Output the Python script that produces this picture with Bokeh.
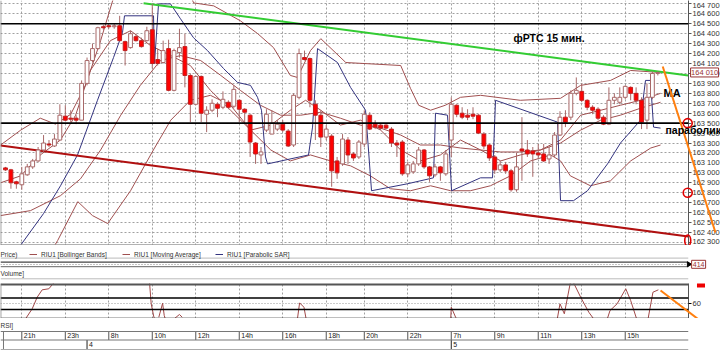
import math
from bokeh.plotting import figure
from bokeh.layouts import column
from bokeh.models import (Range1d, FixedTicker, Span, Label, Legend, LegendItem,
                          Arrow, NormalHead, ColumnDataSource)
from bokeh.embed import file_html
from bokeh.resources import INLINE
from bokeh.core.properties import value

FONT = "Liberation Sans"

# ---------------- data: 15-min candles RIU1 ----------------
opens = [163050,163030,162910,162880,162980,163060,163120,163230,163290,163270,
         163330,163570,163550,163550,163530,163900,164130,164250,164470,164480,
         164470,164480,164320,164260,164370,164330,164330,164440,164140,164110,
         164250,163830,164210,164270,163980,163690,163970,163590,163630,163690,
         163660,163710,163670,163730,163640,163580,163300,163180,163430,163390,
         163440,163490,163420,163280,163760,164160,164150,163690,163580,163360,
         163370,163120,163090,163330,163190,163160,163290,163580,163490,163480,
         163480,163440,163300,163310,162990,163010,163090,163230,163060,162980,
         163060,162990,163330,163680,163600,163580,163590,163580,163390,163280,
         163160,163030,163080,163020,162830,163240,163230,163220,163200,163190,
         163140,163180,163380,163560,163560,163800,163820,163730,163660,163640,
         163560,163490,163730,163710,163760,163860,163800,163730,163530,163760,
         164000]
highs = [163060,163040,162920,163060,163090,163140,163260,163380,163330,163390,
         163690,163680,163630,163580,163930,164160,164300,164470,164490,164490,
         164500,164580,164330,164430,164400,164360,164470,164700,164250,164330,
         164340,164250,164450,164400,164000,163980,163980,163670,163740,163710,
         163820,163730,163880,163740,163650,163590,163310,163260,163640,163630,
         163530,163530,163440,163800,164250,164230,164160,163730,163630,163480,
         163390,163160,163390,163360,163210,163330,163630,163610,163530,163490,
         163490,163460,163330,163330,163110,163120,163260,163240,163070,163090,
         163070,163230,163760,163690,163660,163640,163660,163590,163410,163290,
         163180,163120,163110,163040,163200,163560,163330,163260,163290,163290,
         163260,163410,163620,163630,163830,163960,163900,163740,163680,163660,
         163580,163860,163800,163860,163880,163870,163860,163760,163900,164020,
         164020]
lows = [163020,162840,162840,162830,162970,163040,163110,163210,163260,163260,
        163330,163520,163510,163490,163530,163880,164110,164240,164440,164450,
        164450,164320,164080,164250,164320,164260,164320,164050,164080,164100,
        163820,163820,164160,163860,163510,163680,163510,163410,163610,163560,
        163640,163640,163650,163510,163510,163160,163090,163090,163410,163390,
        163420,163410,163260,163260,163740,164130,163660,163330,163260,163330,
        162860,162940,163070,163090,163120,163140,163260,163430,163440,163430,
        163440,163260,163160,162970,162960,162990,163070,163040,162910,162960,
        162920,162970,163160,163560,163540,163530,163540,163390,163240,163120,
        162990,163010,162990,162810,162810,162920,163160,162960,163140,163110,
        163090,163160,163370,163460,163530,163780,163710,163630,163590,163530,
        163480,163480,163690,163690,163740,163730,163690,163440,163440,163740,
        163980]
closes = [163030,162900,162890,162990,163060,163120,163230,163300,163280,163340,
          163580,163530,163540,163530,163900,164130,164250,164460,164460,164470,
          164480,164330,164230,164400,164330,164270,164430,164100,164100,164230,
          163830,164230,164260,163980,163690,163970,163600,163630,163700,163650,
          163740,163660,163840,163640,163610,163310,163190,163210,163590,163500,
          163490,163430,163270,163780,164200,164140,163730,163580,163360,163440,
          163020,163000,163340,163180,163150,163310,163590,163440,163460,163450,
          163450,163300,163280,162990,163080,163090,163230,163060,162970,163060,
          163000,163190,163690,163590,163560,163560,163570,163400,163270,163150,
          163030,163080,163020,162830,163060,163220,163190,163190,163180,163120,
          163180,163380,163560,163510,163800,163830,163730,163660,163630,163550,
          163490,163730,163760,163760,163870,163800,163730,163510,163760,164000,
          164010]

# indicator lines (vertices: candle index, price)
bb_up_x = [-0.9,2.8,6.4,9.2,12.0,14.7,17.5,19.7,23.0,32.2,34.6,38.3,43.2,46.4,49.3,52.4,53.7,56.1,
           58.0,62.6,72.7,74.5,76.0,78.2,80.9,83.7,87.4,94.7,102.1,105.8,111.3,115.0,120.5]
bb_up_y = [163280,163430,163550,163490,163590,163880,164330,164730,165140,165040,164710,164680,
           164530,164400,164260,163980,163960,164230,164350,164110,164080,163850,163680,163630,
           163680,163760,163780,163730,163750,163880,163930,164030,164010]
bb_mid_x = [-0.9,4.6,10.1,13.8,17.5,21.2,24.8,28.5,32.2,35.9,39.6,43.2,46.9,50.6,54.3,58.0,61.6,
            65.3,69.0,72.7,76.3,80.0,83.7,87.4,91.1,94.7,98.4,102.1,105.8,109.5,113.1,116.8,120.5]
bb_mid_y = [162570,162620,162770,162940,163230,163580,163880,164130,164180,164130,163980,163830,
            163680,163580,163580,163610,163550,163480,163450,163380,163280,163280,163250,163230,
            163210,163210,163230,163300,163430,163530,163580,163650,163710]
bb_low_x = [5.0,9.6,13.3,16.0,18.8,23.0,27.2,30.4,34.0,37.7,41.4,45.1,48.8,52.4,56.1,59.8,63.5,
            67.1,70.8,74.5,78.2,81.9,85.5,89.2,92.9,96.6,100.3,102.1,103.9,107.6,111.3,115.0,118.7,120.5]
bb_low_y = [161900,162320,162710,162570,162490,162820,163230,163530,163730,163780,163680,163430,
            163230,163120,163180,163120,163070,162970,162840,162820,162870,162820,162820,162870,
            162970,163120,163180,163120,162970,162870,162920,163120,163250,163280]
ma_x = [-0.9,2.8,6.4,10.1,12.9,15.6,19.3,23.0,26.7,30.4,34.0,37.7,41.4,45.1,48.8,52.4,55.2,58.0,
        61.6,65.3,69.0,72.7,76.3,80.0,83.7,87.4,91.1,94.7,98.4,102.1,105.8,109.5,113.1,116.8,120.5]
ma_y = [162900,162970,163180,163330,163580,164030,164330,164430,164280,164180,164080,163830,163630,
        163430,163480,163630,163730,163630,163480,163530,163430,163230,163120,163180,163330,163230,
        163120,163180,163230,163330,163580,163630,163680,163730,163800]
sar_x = [2.76,6.99,10.12,13.25,16.92,19.87,21.52,21.89,27.23,27.41,28.15,30.35,32.19,34.58,37.16,
         40.10,42.68,45.07,46.36,47.09,47.46,47.83,48.20,55.74,56.48,57.40,61.07,63.47,66.23,67.33,
         73.95,78.73,79.10,81.31,82.05,87.38,89.59,90.14,101.55,102.10,104.49,107.06,110.74,113.13,
         116.81,117.73,118.65,119.21,120.50]
sar_y = [162270,162590,162870,163180,163730,164160,164410,164580,164580,164100,164700,164700,
         164550,164360,164230,164050,163910,163880,163760,163630,163400,163160,163090,163180,
         163460,164250,164110,163860,163630,162820,162890,162950,163600,163580,162820,162950,
         162950,163730,163510,162720,162720,162820,163090,163300,163530,163930,163930,163460,
         163450]

# hand-drawn annotations on the chart
levels = [164500, 163500]
green_x = [25.4, 125.6]
green_y = [164707, 163980]
red_x = [-0.92, 125.6]
red_y = [163275, 162360]
orange_x = [120.9, 130.6]
orange_y = [164070, 162400]
circle_x = [125.5, 125.5]
circle_y = [163500, 162800]
oval_x = [125.5]
oval_y = [162320]
last_price = 164010
volume_count = "414"

# RSI (visible pieces, NaN = off panel)
nan = float("nan")
rsi_x = [3.68,4.91,5.83,6.75,7.97,8.89, nan,
         26.5,26.8,27.3,27.6, nan, 28.2,28.9,29.2,29.4, nan, 31.0,32.0,32.5, nan,
         53.7,54.1,54.9,55.3, nan, 81.9,82.0,82.8,83.0, nan,
         101.5,102.0,102.8,103.9, nan, 104.5,105.8,107.3,108.2, nan,
         110.7,111.2,112.5,114.1,115.0,116.1, nan, 118.2,119.1,120.1]
rsi_y = [34,51.4,71.4,84.1,85.9,96.2, nan,
         96.2,60,36.9,34, nan, 36.9,61,39.8,34, nan, 34,41.6,36.9, nan,
         34,61.6,54.1,34, nan, 34,54.1,36.9,34, nan,
         34,60,42.8,96.2, nan, 96.2,71.4,45.5,34, nan,
         34,48.4,60,85.9,65.7,34, nan, 34,80,84.1]
rsi_levels = [70, 50]
orange2_x = [120.5, 128.4]
orange2_y = [82.9, 26.6]

# axis labels
price_ticks = list(range(162300, 164701, 100))
price_labels = ["%d %03d" % (p // 1000, p % 1000) for p in price_ticks]
tick_idx = [3, 11, 19, 27, 35, 43, 51, 59, 66, 74, 82, 90, 98, 106, 114]
tick_labels = ["21h", "23h", "8h", "10h", "12h", "14h", "16h", "18h",
               "20h", "22h", "7h", "9h", "11h", "13h", "15h"]
day_idx = [15, 82]
day_labels = ["4", "5"]

# ---------------- figures ----------------
FW = 688
BROWN = "#a05050"
NAVY = "#33337f"
xr = Range1d(-0.92, 125.64)
common = dict(frame_width=FW, x_range=xr, output_backend="svg", toolbar_location=None,
              min_border_left=0, min_border_top=0, min_border_bottom=0, outline_line_color=None)

pA = figure(frame_height=245, y_range=Range1d(162269, 164734), x_axis_location=None,
            y_axis_location="right", min_border_right=30, **common)
ya = pA.yaxis[0]
ya.ticker = FixedTicker(ticks=price_ticks)
ya.major_label_overrides = {p: s for p, s in zip(price_ticks, price_labels)}
ya.major_label_text_font_size = "7.5px"
ya.major_label_text_font = FONT
ya.major_label_text_color = "#333333"
ya.axis_line_color = "#555555"
ya.major_tick_line_color = "#555555"
ya.major_tick_in = 0
ya.major_tick_out = 3
ya.minor_tick_line_color = None
ya.major_label_standoff = 1

pA.xgrid.ticker = FixedTicker(ticks=tick_idx)
pA.ygrid.ticker = FixedTicker(ticks=price_ticks)
for g in (pA.xgrid[0], pA.ygrid[0]):
    g.grid_line_color = "#a0a0a0"
    g.grid_line_dash = "2 2"
    g.grid_line_width = 1

for lv in levels:
    pA.add_layout(Span(location=lv, dimension="width", line_color="black", line_width=1.6))
pA.add_layout(Span(location=162272, dimension="width", line_color="#999999", line_width=2))
pA.add_layout(Span(location=-0.86, dimension="height", line_color="#777777", line_width=1))

# indicators
pA.line(bb_up_x, bb_up_y, line_color=BROWN, line_width=1)
pA.line(bb_mid_x, bb_mid_y, line_color=BROWN, line_width=1)
pA.line(bb_low_x, bb_low_y, line_color=BROWN, line_width=1)
pA.line(ma_x, ma_y, line_color=BROWN, line_width=1)
pA.line(sar_x, sar_y, line_color=NAVY, line_width=1)

# trend lines
pA.line(green_x, green_y, line_color="#33cc33", line_width=2)
pA.line(red_x, red_y, line_color="#b01010", line_width=2)

# candles
idx = list(range(len(opens)))
up = [c >= o for o, c in zip(opens, closes)]
src_up = ColumnDataSource(dict(x=[i for i in idx if up[i]],
                               top=[closes[i] for i in idx if up[i]],
                               bot=[opens[i] for i in idx if up[i]]))
src_dn = ColumnDataSource(dict(x=[i for i in idx if not up[i]],
                               top=[opens[i] for i in idx if not up[i]],
                               bot=[closes[i] for i in idx if not up[i]]))
pA.segment(x0=idx, y0=lows, x1=idx, y1=highs, line_color="#a86868", line_width=1)
pA.vbar(x="x", width=0.7, top="top", bottom="bot", source=src_up,
        fill_color="white", line_color="#a86868", line_width=1)
pA.vbar(x="x", width=0.7, top="top", bottom="bot", source=src_dn,
        fill_color="#ff0000", line_color="#c02020", line_width=1)

# orange forecast line + circles + labels beyond the frame (overlay level: not clipped)
pA.line(orange_x, orange_y, line_color="#ff7f0e", line_width=2, level="overlay")
pA.scatter(circle_x, circle_y, marker="circle", size=9, line_color="#e00000",
           line_width=1.6, fill_color=None, level="overlay")
pA.ellipse(x=oval_x, y=oval_y, width=6, height=11, width_units="screen", height_units="screen",
           line_color="#e00000", line_width=1.6, fill_color=None, level="overlay")
pA.rect(x=[128.6], y=[last_price], width=28, height=9, width_units="screen", height_units="screen",
        fill_color="white", line_color="#993333", line_width=1, level="overlay")
pA.text(x=[128.6], y=[last_price], text=["%d %03d" % (last_price // 1000, last_price % 1000)],
        text_font=value(FONT), text_font_size="7.5px", text_align="center",
        text_baseline="middle", text_color="#993333", level="overlay")
pA.text(x=[121.4], y=[163436], text=["параболик"], text_font=value(FONT),
        text_font_style="bold", text_font_size="10.5px", text_baseline="middle",
        text_color="black", level="overlay")

pA.add_layout(Label(x=93.45, y=164357, text="фРТС  15 мин.", text_font=FONT,
                    text_font_style="bold", text_font_size="10.5px", text_baseline="middle",
                    text_color="black"))
pA.add_layout(Label(x=121.05, y=163808, text="MA", text_font=FONT, text_font_style="bold",
                    text_font_size="11px", text_baseline="middle", text_color="black"))

# ---- legend / strip / volume header ----
pB = figure(frame_height=38, y_range=Range1d(38, 0), x_axis_location=None, y_axis_location=None,
            min_border_right=32, **common)
pB.grid.visible = False
nan1 = [float("nan")]
lg_bb = pB.line(x=nan1, y=nan1, line_color=BROWN, line_width=1)
lg_ma = pB.line(x=nan1, y=nan1, line_color=BROWN, line_width=1)
lg_sar = pB.line(x=nan1, y=nan1, line_color=NAVY, line_width=1)
legend = Legend(items=[LegendItem(label="RIU1 [Bollinger Bands]", renderers=[lg_bb]),
                       LegendItem(label="RIU1 [Moving Average]", renderers=[lg_ma]),
                       LegendItem(label="RIU1 [Parabolic SAR]", renderers=[lg_sar])],
                orientation="horizontal", location=(29, 25), glyph_width=8, glyph_height=8,
                label_standoff=4, label_width=81, spacing=0, padding=0, margin=0,
                border_line_color=None, background_fill_alpha=0,
                label_text_font_size="6.5px", label_text_font=FONT, label_text_color="#333333",
                label_height=8)
pB.add_layout(legend)
pB.text(x=[-0.92], y=[9], text=["Price)"], text_font=value(FONT),
        text_font_size="6.5px", text_baseline="middle", text_color="#333333", level="overlay")
pB.add_layout(Span(location=12.6, dimension="width", line_color="#bbbbbb", line_width=1))
pB.add_layout(Span(location=16.6, dimension="width", line_color="#444444", line_width=1.2))
pB.add_layout(Span(location=19.0, dimension="width", line_color="#888888", line_width=1, line_dash="1 2"))
pB.add_layout(Span(location=21.2, dimension="width", line_color="#666666", line_width=1))
pB.add_layout(Span(location=33.3, dimension="width", line_color="#bbbbbb", line_width=1))
pB.scatter([125.7], [18.8], marker="triangle", angle=-math.pi / 2, size=5, color="black", level="overlay")
pB.rect(x=[127.5], y=[18.8], width=14, height=8, width_units="screen", height_units="screen",
        fill_color="white", line_color="#993333", line_width=1, level="overlay")
pB.text(x=[127.5], y=[18.8], text=[volume_count], text_font=value(FONT), text_font_size="7px",
        text_align="center", text_baseline="middle", text_color="#993333", level="overlay")
pB.text(x=[-0.92], y=[27.7], text=["Volume]"], text_font=value(FONT),
        text_font_size="6.5px", text_baseline="middle", text_color="#333333", level="overlay")

# ---- RSI panel ----
pC = figure(frame_height=35, y_range=Range1d(34.7, 95), x_axis_location=None,
            y_axis_location="right", min_border_right=32, **common)
yc = pC.yaxis[0]
yc.ticker = FixedTicker(ticks=[60])
yc.major_label_text_font_size = "7.5px"
yc.major_label_text_font = FONT
yc.major_label_text_color = "#333333"
yc.axis_line_color = "#555555"
yc.major_tick_in = 0
yc.major_tick_out = 3
yc.minor_tick_line_color = None
yc.major_label_standoff = 1
pC.xgrid.ticker = FixedTicker(ticks=tick_idx)
pC.xgrid.grid_line_color = "#a0a0a0"
pC.xgrid.grid_line_dash = "2 2"
pC.ygrid.ticker = FixedTicker(ticks=[60])
pC.ygrid.grid_line_color = "#999999"
pC.ygrid.grid_line_dash = "1 2"
pC.add_layout(Span(location=94.2, dimension="width", line_color="#555555", line_width=3))
for lv in rsi_levels:
    pC.add_layout(Span(location=lv, dimension="width", line_color="black", line_width=1.5))
pC.add_layout(Span(location=35.2, dimension="width", line_color="#222222", line_width=1))
pC.add_layout(Span(location=-0.86, dimension="height", line_color="#777777", line_width=1))
pC.line(rsi_x, rsi_y, line_color="#a04848", line_width=1)
pC.line(orange2_x, orange2_y, line_color="#ff7f0e", line_width=2, level="overlay")
pC.add_layout(Arrow(x_start=129.3, y_start=91.5, x_end=127.2, y_end=91.5, line_color="#ee0000",
                    line_width=4, end=NormalHead(size=8, fill_color="#ee0000", line_color="#ee0000")))

# ---- time axis ----
pD = figure(frame_height=33, y_range=Range1d(33, 0), x_axis_location=None, y_axis_location=None,
            min_border_right=32, **common)
pD.grid.visible = False
pD.text(x=[-0.92], y=[7], text=["RSI]"], text_font=value(FONT), text_font_size="6.5px",
        text_baseline="middle", text_color="#333333", level="overlay")
for yy, col in ((13, "#777777"), (21.5, "#777777"), (31, "#aaaaaa")):
    pD.add_layout(Span(location=yy, dimension="width", line_color=col, line_width=1))
pD.segment(x0=tick_idx, y0=[13] * len(tick_idx), x1=tick_idx, y1=[21.5] * len(tick_idx),
           line_color="#555555", line_width=1)
pD.segment(x0=day_idx, y0=[21.5] * len(day_idx), x1=day_idx, y1=[31] * len(day_idx),
           line_color="#222222", line_width=1)
pD.segment(x0=[-0.37], y0=[13], x1=[-0.37], y1=[31], line_color="#777777", line_width=1)
pD.text(x=tick_idx, y=[17.4] * len(tick_idx), text=tick_labels, x_offset=2,
        text_font=value(FONT), text_font_size="7px", text_baseline="middle", text_color="#222222")
pD.text(x=day_idx, y=[26.4] * len(day_idx), text=day_labels, x_offset=2,
        text_font=value(FONT), text_font_size="7px", text_baseline="middle", text_color="#222222")

layout = column(pA, pB, pC, pD, spacing=0)
open("out.html", "w").write(file_html(layout, INLINE))
